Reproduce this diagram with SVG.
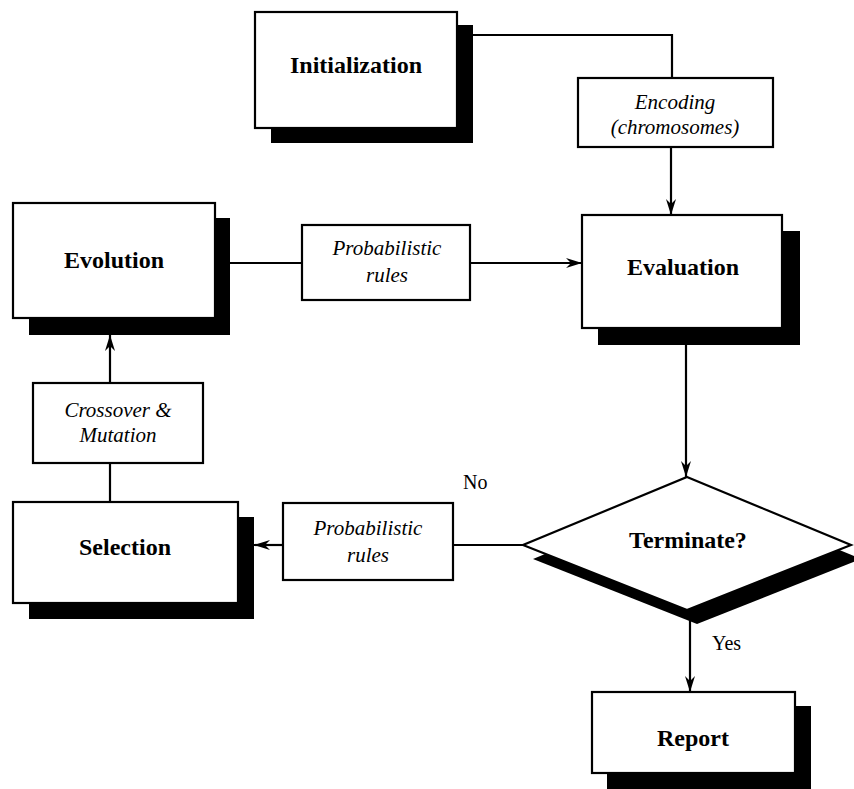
<svg xmlns="http://www.w3.org/2000/svg" width="854" height="789" viewBox="0 0 854 789">
<style>
.box{fill:#fff;stroke:#000;stroke-width:2.2}
.sh{fill:#000}
text{font-family:'Liberation Serif','DejaVu Serif','Times New Roman',serif;fill:#000}
.lbl{font-weight:bold;font-size:24px;text-anchor:middle}
.it{font-style:italic;font-size:21px;text-anchor:middle}
.tag{font-size:20px}
.ln{fill:none;stroke:#000;stroke-width:2.2}
</style>
<defs>
<marker id="ah" viewBox="0 0 16 10" refX="16" refY="5" markerWidth="16" markerHeight="10" markerUnits="userSpaceOnUse" orient="auto">
<path d="M0,0 L16,5 L0,10 L5,5 Z" fill="#000"/>
</marker>
</defs>
<rect width="854" height="789" fill="#fff"/>
<g id="connectors">
<polyline class="ln" points="472,35 672,35 672,78"/>
<line class="ln" x1="671" y1="147" x2="671" y2="215" marker-end="url(#ah)"/>
<line class="ln" x1="230" y1="263" x2="302" y2="263"/>
<line class="ln" x1="470" y1="263" x2="582" y2="263" marker-end="url(#ah)"/>
<line class="ln" x1="686" y1="345" x2="686" y2="477" marker-end="url(#ah)"/>
<line class="ln" x1="523" y1="545" x2="453" y2="545"/>
<line class="ln" x1="283" y1="545" x2="254" y2="545" marker-end="url(#ah)"/>
<line class="ln" x1="110" y1="502" x2="110" y2="463"/>
<line class="ln" x1="110" y1="383" x2="110" y2="335" marker-end="url(#ah)"/>
<line class="ln" x1="690" y1="620" x2="690" y2="692" marker-end="url(#ah)"/>
<text class="tag" x="463" y="489" font-family="Liberation Serif, serif">No</text>
<text class="tag" x="712" y="650" font-family="Liberation Serif, serif">Yes</text>
</g>
<g id="initialization">
<rect class="sh" x="271" y="25" width="202" height="118"/>
<rect class="box" x="255" y="12" width="202" height="116"/>
<text class="lbl" x="356" y="73">Initialization</text>
</g>
<g id="encoding">
<rect class="box" x="578" y="78" width="195" height="69"/>
<text class="it" x="675" y="109">Encoding</text>
<text class="it" x="675" y="134">(chromosomes)</text>
</g>
<g id="evolution">
<rect class="sh" x="29" y="218" width="201" height="117"/>
<rect class="box" x="13" y="203" width="202" height="115"/>
<text class="lbl" x="114" y="268">Evolution</text>
</g>
<g id="prob-top">
<rect class="box" x="302" y="225" width="168" height="75"/>
<text class="it" x="387" y="255">Probabilistic</text>
<text class="it" x="387" y="282">rules</text>
</g>
<g id="evaluation">
<rect class="sh" x="598" y="231" width="202" height="114"/>
<rect class="box" x="582" y="215" width="200" height="113"/>
<text class="lbl" x="683" y="275">Evaluation</text>
</g>
<g id="terminate">
<polygon class="sh" points="697,491 861,559 697,624 533,559"/>
<polygon class="box" points="687,477 851,545 687,610 523,545"/>
<text class="lbl" x="688" y="548">Terminate?</text>
</g>
<g id="crossover">
<rect class="box" x="33" y="383" width="170" height="80"/>
<text class="it" x="118" y="417">Crossover &amp;</text>
<text class="it" x="118" y="442">Mutation</text>
</g>
<g id="prob-bottom">
<rect class="box" x="283" y="503" width="170" height="77"/>
<text class="it" x="368" y="535">Probabilistic</text>
<text class="it" x="368" y="562">rules</text>
</g>
<g id="selection">
<rect class="sh" x="29" y="517" width="225" height="102"/>
<rect class="box" x="13" y="502" width="225" height="101"/>
<text class="lbl" x="125" y="555">Selection</text>
</g>
<g id="report">
<rect class="sh" x="607" y="706" width="204" height="83"/>
<rect class="box" x="592" y="692" width="203" height="81"/>
<text class="lbl" x="693" y="746">Report</text>
</g>
</svg>
